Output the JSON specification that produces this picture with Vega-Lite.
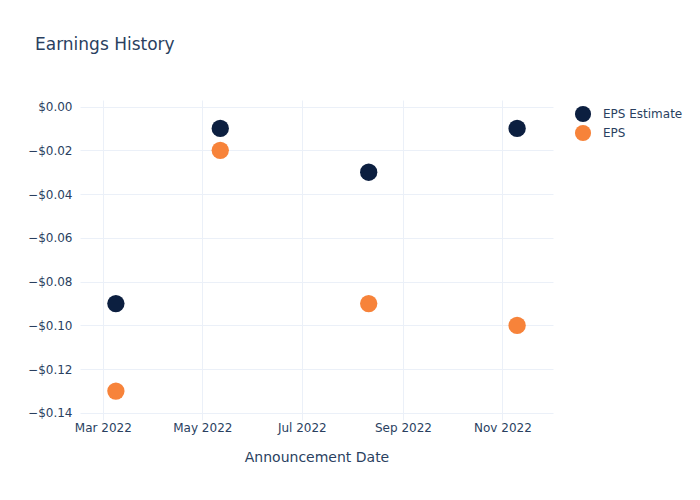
{
  "$schema": "https://vega.github.io/schema/vega-lite/v6.json",
  "width": 473,
  "height": 320,
  "autosize": {"type": "none"},
  "padding": {"left": 80, "top": 100, "right": 147, "bottom": 80},
  "background": "white",
  "title": {
    "text": "Earnings History",
    "anchor": "start",
    "frame": "group",
    "dx": -45,
    "offset": 46,
    "font": "DejaVu Sans",
    "fontSize": 17,
    "fontWeight": "normal",
    "color": "#2a3f5f"
  },
  "config": {
    "view": {"stroke": null},
    "font": "DejaVu Sans"
  },
  "data": {
    "values": [
      {"date": "2022-03-09", "series": "EPS Estimate", "value": -0.09},
      {"date": "2022-05-12", "series": "EPS Estimate", "value": -0.01},
      {"date": "2022-08-11", "series": "EPS Estimate", "value": -0.03},
      {"date": "2022-11-10", "series": "EPS Estimate", "value": -0.01},
      {"date": "2022-03-09", "series": "EPS", "value": -0.13},
      {"date": "2022-05-12", "series": "EPS", "value": -0.02},
      {"date": "2022-08-11", "series": "EPS", "value": -0.09},
      {"date": "2022-11-10", "series": "EPS", "value": -0.10}
    ]
  },
  "mark": {"type": "circle", "size": 300, "opacity": 1},
  "encoding": {
    "x": {
      "field": "date",
      "type": "temporal",
      "scale": {"domain": ["2022-02-15", "2022-12-02"]},
      "axis": {
        "title": "Announcement Date",
        "titleFont": "DejaVu Sans",
        "titleFontSize": 14,
        "titleFontWeight": "normal",
        "titleColor": "#2a3f5f",
        "titlePadding": 17,
        "values": ["2022-03-01", "2022-05-01", "2022-07-01", "2022-09-01", "2022-11-01"],
        "format": "%b %Y",
        "labelFontSize": 12,
        "labelColor": "#2a3f5f",
        "labelPadding": 2,
        "ticks": false,
        "domain": false,
        "grid": true,
        "gridColor": "#ebf0f8",
        "gridWidth": 1
      }
    },
    "y": {
      "field": "value",
      "type": "quantitative",
      "scale": {"domain": [-0.1432, 0.0030], "nice": false, "zero": false},
      "axis": {
        "title": null,
        "values": [0, -0.02, -0.04, -0.06, -0.08, -0.1, -0.12, -0.14],
        "labelExpr": "datum.value < -0.0001 ? '\u2212$' + format(-datum.value, '.2f') : '$' + format(0, '.2f')",
        "labelFontSize": 12,
        "labelColor": "#2a3f5f",
        "labelPadding": 8,
        "ticks": false,
        "domain": false,
        "grid": true,
        "gridColor": "#ebf0f8",
        "gridWidth": 1
      }
    },
    "color": {
      "field": "series",
      "type": "nominal",
      "scale": {"domain": ["EPS Estimate", "EPS"], "range": ["#0c1f40", "#f7833a"]},
      "legend": {
        "title": null,
        "orient": "none",
        "legendX": 494,
        "legendY": 5,
        "symbolSize": 260,
        "symbolType": "circle",
        "symbolOpacity": 1,
        "labelFontSize": 12,
        "labelColor": "#2a3f5f",
        "labelOffset": 11,
        "rowPadding": 1
      }
    },
    "order": {"field": "series", "sort": "descending"}
  }
}
